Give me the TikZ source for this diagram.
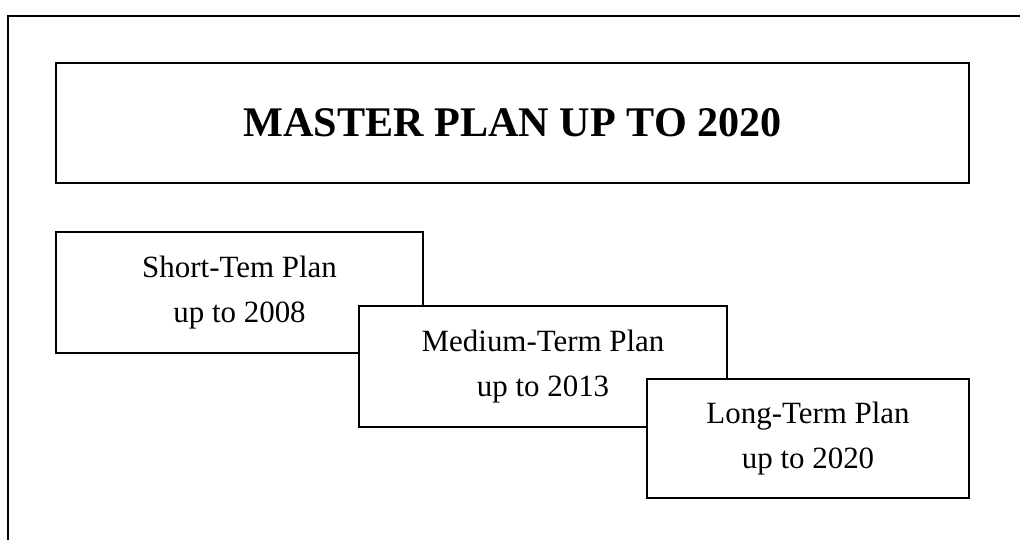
\documentclass[tikz,border=0pt]{standalone}
\usepackage{fontspec}
\setmainfont{Liberation Serif}
\usetikzlibrary{positioning}
\tikzstyle{frame}=[line width=1.2pt]
\tikzstyle{planbox}=[draw, fill=white, line width=1.2pt,
                    inner sep=0pt, outer sep=0pt, align=center,
                    anchor=north west,
                    font=\fontsize{22}{32}\selectfont]
\tikzstyle{titlebox}=[planbox,
                    font=\fontsize{30}{36}\selectfont\bfseries]

\begin{document}
\begin{tikzpicture}[x=0.025cm,y=-0.025cm]
    \useasboundingbox (0,0) rectangle (1020,540);

    % open outer frame
    \coordinate (fb) at (8,540);
    \coordinate (fc) at (8,16);
    \coordinate (fr) at (1020,16);
    \draw [frame] (fb) -- (fc) -- (fr);

    \node (master) [titlebox, minimum width=22.825cm, minimum height=3cm]
        at (56,63) {MASTER PLAN UP TO 2020};

    % stacked plans, later ones on top
    \node (short) [planbox, minimum width=9.175cm, minimum height=3.025cm]
        at (56,232) {Short-Tem Plan\\up to 2008};
    \node (medium) [planbox, minimum width=9.2cm, minimum height=3.025cm]
        at (359,306) {Medium-Term Plan\\up to 2013};
    \node (long) [planbox, minimum width=8.05cm, minimum height=2.975cm]
        at (647,379) {Long-Term Plan\\up to 2020};

\end{tikzpicture}
\end{document}
